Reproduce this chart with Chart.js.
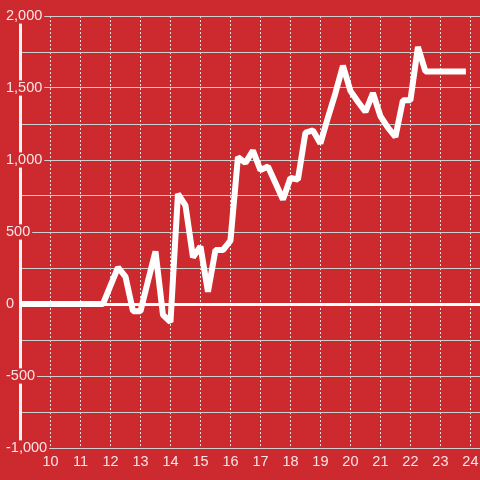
<!DOCTYPE html>
<html>
<head>
<meta charset="utf-8">
<script src="https://cdn.jsdelivr.net/npm/chart.js@4"></script>
<style>
  html, body { margin: 0; padding: 0; background: #cc2a2f; }
  canvas { display: block; }
</style>
</head>
<body>
<canvas id="chart" width="480" height="480"></canvas>
<script>
// time of day (hours), one point every quarter hour
const hours = [
  9, 9.25, 9.5, 9.75, 10, 10.25, 10.5, 10.75, 11, 11.25, 11.5, 11.75,
  12, 12.25, 12.5, 12.75, 13, 13.25, 13.5, 13.75, 14, 14.25, 14.5, 14.75,
  15, 15.25, 15.5, 15.75, 16, 16.25, 16.5, 16.75, 17, 17.25, 17.5, 17.75,
  18, 18.25, 18.5, 18.75, 19, 19.25, 19.5, 19.75, 20, 20.25, 20.5, 20.75,
  21, 21.25, 21.5, 21.75, 22, 22.25, 22.5, 22.75, 23, 23.25, 23.5, 23.75
];

const values = [
  0, 0, 0, 0, 0, 0, 0, 0, 0, 0, 0, 0,
  128, 255, 190, -50, -50, 160, 365, -75, -125, 765, 685, 325,
  400, 85, 375, 375, 440, 1020, 980, 1065, 930, 955, 840, 725,
  875, 865, 1190, 1205, 1115, 1295, 1465, 1655, 1480, 1405, 1335, 1465,
  1305, 1225, 1160, 1415, 1415, 1785, 1615, 1615, 1615, 1615, 1615, 1615
];

const bgRed = '#cc2a2f';
const textColor = 'rgba(255, 255, 255, 0.88)';

Chart.defaults.font.family = "'Liberation Sans', Arial, sans-serif";
Chart.defaults.font.size = 14.5;
Chart.defaults.font.lineHeight = 1.05;

let ctx = document.getElementById('chart').getContext('2d');

let chart = new Chart(ctx, {
  type: 'line',
  data: {
    labels: hours,
    datasets: [{
      data: values,
      borderColor: '#ffffff',
      borderWidth: 6,
      borderCapStyle: 'square',
      borderJoinStyle: 'bevel',
      pointRadius: 0,
      tension: 0,
      fill: false
    }]
  },
  options: {
    responsive: false,
    animation: false,
    layout: {
      padding: { top: 16, left: 6, right: 0, bottom: 0 }
    },
    scales: {
      x: {
        type: 'linear',
        min: 9,
        max: 24.32,
        afterBuildTicks: (scale) => {
          scale.ticks = scale.ticks.filter(t => t.value >= 10 && t.value % 1 === 0);
        },
        afterFit: (scale) => {
          scale.height = 32;
          scale.paddingLeft = 0;
          scale.paddingRight = 0;
        },
        grid: { drawTicks: false, color: '#e2e2e2', lineWidth: 1 },
        border: { color: '#cfcfcf', width: 1, dash: [2, 2] },
        ticks: { stepSize: 1, includeBounds: false, autoSkip: false, maxRotation: 0, padding: 6, color: textColor }
      },
      y: {
        min: -1000,
        max: 2000,
        // labels sit over the axis line, left of the plot
        afterFit: (scale) => { scale.width = 14.5; },
        grid: {
          drawTicks: false,
          color: (c) => (c.tick && c.tick.value === 0) ? '#ffffff' : '#cfcfcf',
          lineWidth: (c) => (c.tick && c.tick.value === 0) ? 3 : 1
        },
        border: { color: '#f4f4f4', width: 3 },
        ticks: {
          stepSize: 250,
          mirror: true,
          crossAlign: 'near',
          padding: -14.5,
          color: textColor,
          callback: (v) => v % 500 === 0 ? v.toLocaleString('en-US') : '',
          showLabelBackdrop: (c) => c.tick && c.tick.value % 500 === 0,
          backdropColor: bgRed,
          backdropPadding: { top: 0, bottom: 0, left: 6, right: 2 }
        }
      }
    },
    plugins: {
      legend: { display: false },
      tooltip: { enabled: false }
    }
  }
});
</script>
</body>
</html>
